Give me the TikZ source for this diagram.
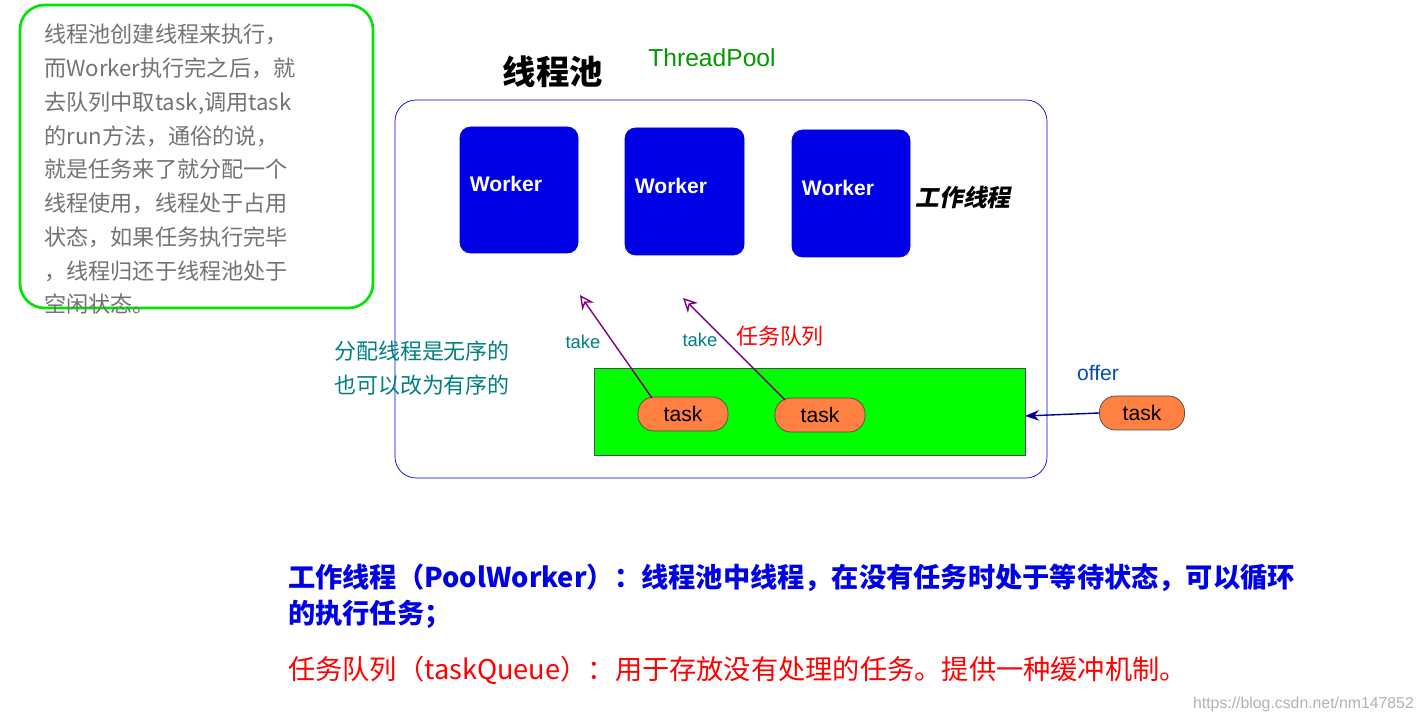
\documentclass[tikz,border=0pt]{standalone}
\usepackage{fontspec}
\setmainfont{Noto Sans CJK SC}
\newfontfamily\lat{Liberation Sans}
\usetikzlibrary{arrows.meta}
\definecolor{wblue}{RGB}{0,0,230}
\definecolor{tor}{RGB}{255,128,64}
\definecolor{teal2}{RGB}{0,128,128}
\definecolor{purp}{RGB}{128,0,128}
\begin{document}
\begin{tikzpicture}[x=0.02cm,y=-0.02cm,
 worker/.style={draw=wblue,fill=wblue,rounded corners=6pt},
 wtxt/.style={text=white,font=\lat\bfseries\fontsize{12}{12}\selectfont},
 task/.style={draw=black!70,fill=tor,rounded corners=9pt,minimum width=90*0.02cm,minimum height=34*0.02cm,font=\lat\fontsize{12}{12}\selectfont},
 take/.style={text=teal2,font=\lat\fontsize{10.5}{10}\selectfont},
 parr/.style={draw=purp,thick,-{Stealth[open,length=8pt,width=8pt]}}]
\useasboundingbox (0,0) rectangle (1426,722);
\fill[white] (0,0) rectangle (1426,722);
\draw[green!90!black,line width=1.5pt,rounded corners=14pt] (20,5) rectangle (373,308);
\node[anchor=north west,text=gray!90!black,align=left,inner sep=0pt,font=\fontsize{12.6}{19.2}\selectfont] (note) at (44,24)
{线程池创建线程来执行，\\而Worker执行完之后，就\\去队列中取task,调用task\\的run方法，通俗的说，\\就是任务来了就分配一个\\线程使用，线程处于占用\\状态，如果任务执行完毕\\，线程归还于线程池处于\\空闲状态。};
\node[font=\bfseries\fontsize{19}{19}\selectfont] (title) at (553,72) {线程池};
\node[text=green!60!black,font=\lat\fontsize{14}{14}\selectfont] (tp) at (712,58) {ThreadPool};
\draw[wblue,rounded corners=12pt] (395,100) rectangle (1047,478);
\draw[worker] (460,127) rectangle (578,253); \node[wtxt] (w1) at (506,184) {Worker};
\draw[worker] (625,128) rectangle (744,255); \node[wtxt] (w2) at (671,186) {Worker};
\draw[worker] (792,130) rectangle (910,257); \node[wtxt] (w3) at (838,188) {Worker};
\node[font=\bfseries\fontsize{13.5}{13}\selectfont,xslant=0.2] (gz) at (965,197) {工作线程};
\fill[green] (594,368) rectangle (1025,455); \draw[black!70] (594,368) rectangle (1025,455);
\node[task] (t1) at (683,414) {task};
\node[task] (t2) at (820,415) {task};
\node[task,minimum width=85*0.02cm] (t3) at (1142,413) {task};
\coordinate (a1) at (580,295); \coordinate (a2) at (683,298);
\draw[parr] (652,398) -- (a1);
\draw[parr] (785,400) -- (a2);
\node[take] (k1) at (583,342) {take};
\node[take] (k2) at (700,340) {take};
\node[text=red,font=\fontsize{12.5}{12}\selectfont] (rq) at (780,336) {任务队列};
\node[text=teal2,align=left,font=\fontsize{12.5}{19}\selectfont] (fp) at (422,368) {分配线程是无序的\\也可以改为有序的};
\node[text=teal2!60!blue,font=\lat\fontsize{12}{12}\selectfont] (of) at (1098,373) {offer};
\coordinate (qe) at (1025,416);
\draw[draw=blue!60!black,thick,-{Stealth[length=8pt]}] (t3.west) -- (qe);
\node[anchor=west,text=wblue,font=\bfseries\fontsize{15.5}{20}\selectfont] (b1) at (282,578) {工作线程（PoolWorker）：线程池中线程，在没有任务时处于等待状态，可以循环};
\node[anchor=west,text=wblue,font=\bfseries\fontsize{15.5}{20}\selectfont] (b2) at (282,614) {的执行任务；};
\node[anchor=west,text=red,font=\fontsize{15.5}{20}\selectfont] (b3) at (282,670) {任务队列（taskQueue）：用于存放没有处理的任务。提供一种缓冲机制。};
\node[anchor=east,text=gray!60,font=\lat\fontsize{9}{9}\selectfont] (wm) at (1420,704) {https://blog.csdn.net/nm147852};
\end{tikzpicture}
\end{document}
